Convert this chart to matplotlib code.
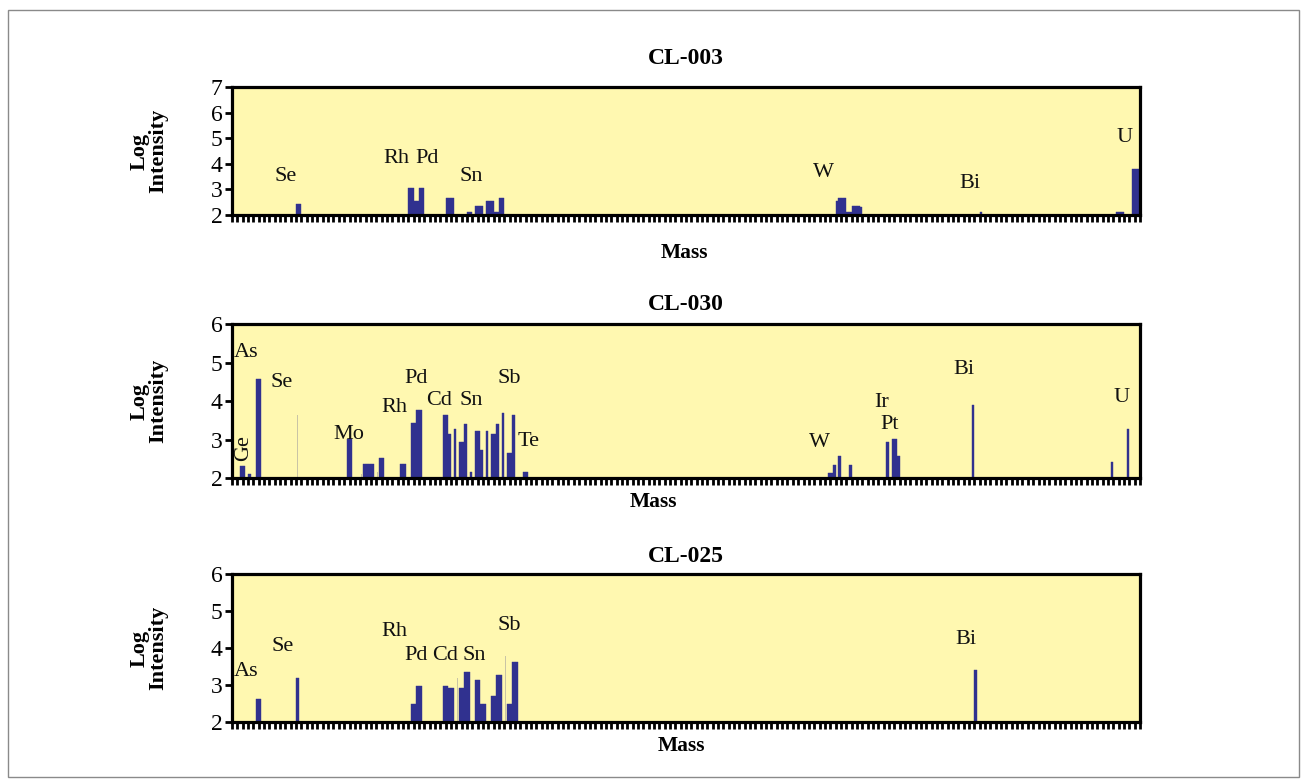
import matplotlib.pyplot as plt
from matplotlib.patches import Rectangle
import numpy as np

W_PX, H_PX = 1307, 779

# CL-003 : mass (half-mass channels) and log intensity
mass_003 = [82.5, 83.0,
            103.5, 104.0, 104.5, 105.0, 105.5, 106.0,
            110.5, 111.0, 111.5,
            114.5, 115.0, 116.0, 116.5, 117.0,
            118.0, 118.5, 119.0, 119.5, 120.0, 120.5, 121.0,
            183.5, 184.0, 184.5, 185.0, 185.5, 186.0,
            186.5, 187.0, 187.5, 188.0,
            210.5,
            236.0, 236.5, 237.0,
            239.0, 239.5, 240.0]
logi_003 = [2.43, 2.43,
            3.06, 3.06, 2.54, 2.54, 3.06, 3.06,
            2.67, 2.67, 2.67,
            2.12, 2.12, 2.35, 2.35, 2.35,
            2.55, 2.55, 2.55, 2.12, 2.12, 2.67, 2.67,
            2.54, 2.67, 2.67, 2.67, 2.12, 2.12,
            2.37, 2.37, 2.37, 2.33,
            2.12,
            2.12, 2.12, 2.12,
            3.80, 3.80, 3.80]

# CL-030
mass_030 = [72.0, 72.5, 73.5, 75.0, 75.5,
            92.0, 92.5, 95.0, 95.5, 96.0, 96.5, 98.0, 98.5,
            102.0, 102.5, 104.0, 104.5, 105.0, 105.5,
            110.0, 110.5, 111.0, 112.0, 113.0, 113.5, 114.0,
            115.0, 116.0, 116.5, 117.0, 118.0, 119.0, 119.5,
            120.0, 121.0, 122.0, 122.5, 123.0, 125.0, 125.5,
            182.0, 182.5, 183.0, 184.0, 186.0,
            193.0, 194.0, 194.5, 195.0,
            209.0, 235.0, 238.0]
logi_030 = [2.32, 2.32, 2.11, 4.58, 4.58,
            3.02, 3.02, 2.37, 2.37, 2.37, 2.37, 2.53, 2.53,
            2.37, 2.37, 3.44, 3.44, 3.77, 3.77,
            3.64, 3.64, 3.15, 3.28, 2.94, 2.94, 3.41,
            2.17, 3.23, 3.23, 2.73, 3.23, 3.15, 3.15,
            3.41, 3.70, 2.66, 2.66, 3.64, 2.17, 2.17,
            2.14, 2.14, 2.35, 2.59, 2.35,
            2.93, 3.01, 3.01, 2.59,
            3.90, 2.43, 3.27]
faint_mass_030 = [82.5, 94.5, 97.5, 100.0, 103.0]
faint_logi_030 = [3.64, 2.10, 2.16, 2.16, 3.01]

# CL-025
mass_025 = [75.0, 75.5, 82.5,
            104.0, 104.5, 105.0, 105.5,
            110.0, 110.5, 111.0, 111.5,
            113.0, 113.5, 114.0, 114.5,
            116.0, 116.5, 117.0, 117.5,
            119.0, 119.5, 120.0, 120.5,
            122.0, 122.5, 123.0, 123.5,
            209.5]
logi_025 = [2.62, 2.62, 3.19,
            2.48, 2.48, 2.97, 2.97,
            2.97, 2.97, 2.91, 2.91,
            2.91, 2.91, 3.35, 3.35,
            3.13, 3.13, 2.48, 2.48,
            2.70, 2.70, 3.27, 3.27,
            2.48, 2.48, 3.62, 3.62,
            3.40]
faint_mass_025 = [103.0, 112.5, 118.0, 121.5]
faint_logi_025 = [3.13, 3.18, 3.13, 3.78]

# element labels: (text, mass, log intensity)
labels_003 = [("Se", 80.2, 3.50), ("Rh", 101.0, 4.22), ("Pd", 106.85, 4.22),
              ("Sn", 115.1, 3.52), ("W", 180.9, 3.66), ("Bi", 208.4, 3.25),
              ("U", 237.4, 5.05)]
labels_030 = [("As", 72.8, 5.27), ("Se", 79.6, 4.49), ("Mo", 92.2, 3.15),
              ("Rh", 100.6, 3.84), ("Pd", 104.7, 4.58), ("Cd", 109.1, 4.03),
              ("Sn", 115.0, 4.03), ("Sb", 122.1, 4.58), ("Te", 125.7, 2.95),
              ("W", 180.3, 2.94), ("Ir", 191.8, 3.97), ("Pt", 193.3, 3.40),
              ("Bi", 207.3, 4.82), ("U", 236.8, 4.10)]
labels_025 = [("As", 72.8, 3.35), ("Se", 79.7, 4.03), ("Rh", 100.6, 4.44),
              ("Pd", 104.7, 3.81), ("Cd", 110.1, 3.81), ("Sn", 115.6, 3.81),
              ("Sb", 122.1, 4.62), ("Bi", 207.7, 4.22)]

NAVY = "#30318f"
FAINT = "#c9c4a5"
BG = "#fff8b0"
SERIF = ["Liberation Serif", "DejaVu Serif"]

plt.rcParams["font.family"] = SERIF

fig = plt.figure(figsize=(W_PX / 100, H_PX / 100), dpi=100)


def fx(px):
    return px / W_PX


def fy(py):
    return 1 - py / H_PX


def panel(top, bottom, ymax, masses, vals, fmass, fvals, labels):
    ax = fig.add_axes([fx(232), fy(bottom), fx(1140) - fx(232), fy(top) - fy(bottom)])
    ax.set_facecolor(BG)
    ax.bar(masses, vals, width=0.5, color=NAVY, edgecolor=NAVY, linewidth=0.3, zorder=2)
    if fmass:
        ax.bar(fmass, fvals, width=0.12, color=FAINT, linewidth=0, zorder=1)
    ax.set_xlim(70.25, 240.25)
    ax.set_ylim(2, ymax)
    ax.set_xticks(np.arange(70.25, 240.3, 1.0))
    ax.set_xticklabels([])
    ax.set_yticks(range(2, ymax + 1))
    ax.tick_params(axis="x", direction="out", length=4.8, width=2.0, color="black")
    ax.tick_params(axis="y", direction="out", length=5.0, width=2.0, labelsize=17, pad=2)
    for s in ax.spines.values():
        s.set_linewidth(2.3)
        s.set_color("black")
    for txt, m, v in labels:
        ax.text(m, v, txt, ha="center", va="center", fontsize=16, color="#111111")
    return ax


ax1 = panel(87.3, 215.0, 7, mass_003, logi_003, [], [], labels_003)
ax2 = panel(324.3, 478.3, 6, mass_030, logi_030, faint_mass_030, faint_logi_030, labels_030)
ax3 = panel(574.3, 721.7, 6, mass_025, logi_025, faint_mass_025, faint_logi_025, labels_025)

ax2.text(72.4, 2.79, "Ge", rotation=90, ha="center", va="center", fontsize=16, color="#111111")

titles = [("CL-003", 59), ("CL-030", 305), ("CL-025", 556)]
for t, py in titles:
    fig.text(fx(686), fy(py), t, ha="center", va="center", fontsize=17, fontweight="bold")

for px, py in [(684, 253), (653, 502), (681, 746)]:
    fig.text(fx(px), fy(py), "Mass", ha="center", va="center", fontsize=15.5, fontweight="bold")

for py in [151, 401, 648]:
    fig.text(fx(149), fy(py), "Log\nIntensity", rotation=90, ha="center", va="center",
             multialignment="center", fontsize=16, fontweight="bold", linespacing=0.9)

fig.patches.append(Rectangle((fx(8), fy(777)), fx(1299) - fx(8), fy(10) - fy(777),
                             transform=fig.transFigure, fill=False, edgecolor="#8a8a8a",
                             linewidth=1.0))

fig.savefig("out.png", dpi=100)
